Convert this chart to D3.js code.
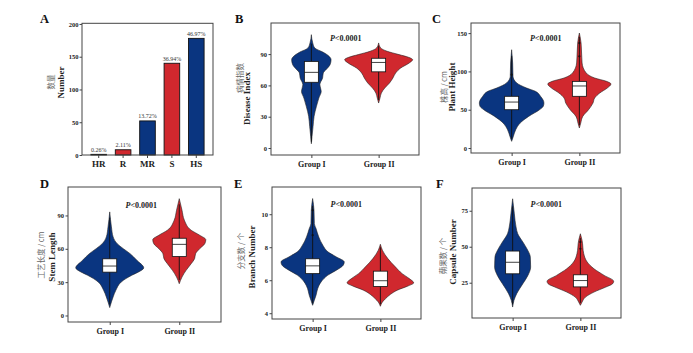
<!DOCTYPE html>
<html>
<head>
<meta charset="utf-8">
<script src="https://cdn.jsdelivr.net/npm/d3@7"></script>
<style>
body { margin: 0; background: #fff; }
svg { display: block; }
text { font-family: "Liberation Serif", "Times New Roman", serif; }
.cn { font-family: "Noto Sans CJK SC", sans-serif; fill: #666; }
</style>
</head>
<body>
<div id="chart"></div>
<script>
// ---- panel A: resistance classes
var barCats = ["HR", "R", "MR", "S", "HS"];
var barCounts = [1, 8, 52, 140, 178];
var barPcts = ["0.26%", "2.11%", "13.72%", "36.94%", "46.97%"];
var barTicks = [0, 50, 100, 150, 200];

var groups = ["Group I", "Group II"];

// violin outlines: [value, relative half width]
var diseaseI = [[108.6,0],[100.7,.04],[95.9,.1],[91.7,.35],[87.9,.52],[84.7,.58],[79.9,.55],[75.7,.45],[71.9,.35],[67.1,.33],[60.7,.25],[54.3,.29],[47.9,.22],[40,.15],[30.4,.08],[20.8,.05],[11.2,.02],[4.1,0]];
var diseaseII = [[100.7,0],[95.9,.06],[92.7,.25],[89.5,.6],[86.9,.88],[84.7,1],[81.5,.9],[76.7,.65],[71.9,.5],[67.1,.42],[62.3,.32],[57.5,.18],[52.7,.08],[47.9,.04],[43.1,0]];
var heightI = [[128.3,0],[111,.03],[93.6,.04],[84.9,.15],[78.3,.44],[74,.7],[67.5,.85],[58.7,.95],[54.4,.93],[50,.82],[41.3,.5],[32.6,.25],[23.9,.12],[15.2,.05],[8.7,0]];
var heightII = [[150.1,0],[137,.05],[111,.08],[98,.2],[91.4,.45],[87,.8],[83.6,.93],[78.3,.82],[71.8,.6],[65.3,.45],[58.7,.4],[50,.27],[41.3,.1],[32.6,.04],[26.1,0]];
var stemI = [[93.2,0],[79.7,.05],[70.7,.1],[64.6,.22],[60.1,.4],[55.6,.6],[49.6,.8],[42.8,1],[39.2,.85],[36.2,.65],[30.2,.34],[22.7,.18],[16.7,.1],[12.2,.05],[7.1,0]];
var stemII = [[105.1,0],[94.7,.08],[85.7,.15],[76.7,.35],[72.2,.6],[68.2,.78],[64.6,.75],[60.1,.6],[55.6,.48],[51.1,.45],[46.6,.35],[40.6,.2],[34.6,.08],[28.6,0]];
var branchI = [[10.95,0],[10.24,.04],[9.43,.05],[9.13,.1],[8.62,.18],[8.12,.3],[7.72,.45],[7.41,.7],[7.11,.93],[6.91,.9],[6.61,.7],[6.31,.45],[5.9,.25],[5.5,.15],[5.09,.1],[4.79,.05],[4.48,0]];
var branchII = [[8.18,0],[7.82,.06],[7.31,.22],[6.81,.44],[6.4,.64],[6.1,.85],[5.84,.98],[5.64,.8],[5.4,.5],[5.15,.3],[4.88,.15],[4.68,.06],[4.42,0]];
var capsuleI = [[83.3,0],[72.9,.05],[63.7,.1],[59,.15],[53.3,.3],[48.6,.42],[42.8,.52],[35.9,.53],[30.1,.45],[24.3,.3],[17.4,.12],[12.8,.04],[8.1,0]];
var capsuleII = [[59,0],[54.4,.05],[45.1,.1],[39.4,.2],[34.7,.4],[30.1,.7],[26,.98],[24.3,.95],[22,.75],[18.5,.4],[15,.15],[11.6,.05],[9.3,0]];

// box stats: [whisker low, q1, median, q3, whisker high]
var diseaseBox = [[6, 63, 72.5, 83, 100], [46, 73, 82, 86, 98]];
var heightBox = [[12, 50, 60, 67.5, 120], [30, 67.5, 81, 87, 145]];
var stemBox = [[10, 39, 44.5, 51, 88], [32, 53, 64, 69.5, 100]];
var branchBox = [[4.6, 6.4, 6.87, 7.3, 10.5], [4.55, 5.62, 5.97, 6.55, 8.0]];
var capsuleBox = [[10, 31.2, 39.2, 47, 78], [11, 22.1, 26.5, 30.5, 56]];

var heightOut = [[95.7], [137, 119.7]];
var branchOut = [[10.24, 8.73], []];
var capsuleOut = [[], [53.3, 48.6]];

var pText = "<0.0001";

var blue = "#0a3580", red = "#d0282e";
var fills = [blue, red];

var svg = d3.select("#chart").append("svg")
    .attr("width", 693).attr("height", 353);

function yAxisStyle(g) {
    g.select(".domain").remove();
    g.selectAll("text").attr("font-weight", "bold").attr("font-size", "6.5px").attr("fill", "#222");
    g.selectAll("line").attr("stroke", "#444");
}

// ---------- panel A ----------
(function() {
    var f = {x: 82, y: 23.3, w: 131, h: 131.7};
    var g = svg.append("g").attr("transform", "translate(" + f.x + "," + f.y + ")");
    var x = d3.scaleBand().domain(barCats).range([0, f.w]).paddingInner(0.36).paddingOuter(0.365);
    var y = d3.scaleLinear().domain([0, 201]).range([f.h, 0]);

    g.selectAll(".bar").data(barCounts).enter().append("rect")
        .attr("x", (d, i) => x(barCats[i]))
        .attr("y", d => y(d))
        .attr("width", x.bandwidth())
        .attr("height", d => f.h - y(d))
        .attr("fill", (d, i) => i % 2 ? red : blue)
        .attr("stroke", "#111").attr("stroke-width", 0.9);

    g.selectAll(".pct").data(barPcts).enter().append("text")
        .attr("x", (d, i) => x(barCats[i]) + x.bandwidth() / 2)
        .attr("y", (d, i) => y(barCounts[i]) - 2.5)
        .attr("text-anchor", "middle")
        .attr("font-size", "6px").attr("fill", "#333")
        .text(d => d);

    g.append("g").call(d3.axisLeft(y).tickValues(barTicks).tickSize(2.5).tickPadding(1)).call(yAxisStyle);
    var xa = g.append("g").attr("transform", "translate(0," + f.h + ")")
        .call(d3.axisBottom(x).tickSize(3).tickPadding(3));
    xa.select(".domain").remove();
    xa.selectAll("line").attr("stroke", "#444");
    xa.selectAll("text").attr("font-weight", "bold").attr("font-size", "9px").attr("fill", "#222");

    g.append("rect").attr("width", f.w).attr("height", f.h)
        .attr("fill", "none").attr("stroke", "#444").attr("stroke-width", 1);
})();

// ---------- violin panels ----------
var panels = [
    {frame: {x: 271, y: 23, w: 148, h: 132}, dom: [-6.7, 119.8], ticks: [0, 30, 60, 90],
     dens: [diseaseI, diseaseII], box: diseaseBox, out: [[], []],
     p: [345.7, 41.3]},
    {frame: {x: 471, y: 23, w: 149, h: 130}, dom: [-6.5, 163.2], ticks: [0, 50, 100, 150],
     dens: [heightI, heightII], box: heightBox, out: heightOut,
     p: [545.7, 40.5]},
    {frame: {x: 68, y: 187, w: 153, h: 135}, dom: [-5.85, 115.6], ticks: [0, 30, 60, 90],
     dens: [stemI, stemII], box: stemBox, out: [[], []],
     p: [141.3, 207.5]},
    {frame: {x: 272, y: 187, w: 149, h: 132}, dom: [3.65, 11.65], ticks: [4, 6, 8, 10],
     dens: [branchI, branchII], box: branchBox, out: branchOut,
     p: [346.3, 207]},
    {frame: {x: 472, y: 188, w: 149, h: 130}, dom: [0.49, 90.8], ticks: [25, 50, 75],
     dens: [capsuleI, capsuleII], box: capsuleBox, out: capsuleOut,
     p: [546.3, 207]}
];

var wScale = d3.scaleLinear().domain([0, 1]).range([0, 34]);

panels.forEach(function(P) {
    var f = P.frame;
    var g = svg.append("g").attr("transform", "translate(" + f.x + "," + f.y + ")");
    var x = d3.scalePoint().domain(groups).range([0, f.w]).padding(0.6);
    var y = d3.scaleLinear().domain(P.dom).range([f.h, 0]);

    groups.forEach(function(grp, i) {
        var cx = x(grp);
        var area = d3.area()
            .curve(d3.curveMonotoneY)
            .y(d => y(d[0]))
            .x0(d => cx - wScale(d[1]))
            .x1(d => cx + wScale(d[1]));
        g.append("path").datum(P.dens[i])
            .attr("d", area)
            .attr("fill", fills[i])
            .attr("stroke", "#222").attr("stroke-width", 0.6);

        var b = P.box[i];
        g.append("line")
            .attr("x1", cx).attr("x2", cx)
            .attr("y1", y(b[0])).attr("y2", y(b[4]))
            .attr("stroke", "#111").attr("stroke-width", 0.9);
        g.append("rect")
            .attr("x", cx - 7).attr("width", 14)
            .attr("y", y(b[3])).attr("height", y(b[1]) - y(b[3]))
            .attr("fill", "#fff").attr("stroke", "#111").attr("stroke-width", 0.8);
        g.append("line")
            .attr("x1", cx - 7).attr("x2", cx + 7)
            .attr("y1", y(b[2])).attr("y2", y(b[2]))
            .attr("stroke", "#111").attr("stroke-width", 0.8);

        g.selectAll(".o" + i).data(P.out[i]).enter().append("circle")
            .attr("cx", cx).attr("cy", d => y(d)).attr("r", 1.1)
            .attr("fill", "#111");
    });

    g.append("g").call(d3.axisLeft(y).tickValues(P.ticks).tickSize(2.5).tickPadding(1.5)).call(yAxisStyle);
    var xa = g.append("g").attr("transform", "translate(0," + f.h + ")")
        .call(d3.axisBottom(x).tickSize(3).tickPadding(3.3));
    xa.select(".domain").remove();
    xa.selectAll("line").attr("stroke", "#444");
    xa.selectAll("text").attr("font-weight", "bold").attr("font-size", "8px").attr("fill", "#222");

    g.append("rect").attr("width", f.w).attr("height", f.h)
        .attr("fill", "none").attr("stroke", "#444").attr("stroke-width", 1);

    var pt = svg.append("text")
        .attr("x", P.p[0]).attr("y", P.p[1])
        .attr("text-anchor", "middle")
        .attr("font-size", "8px").attr("font-weight", "bold").attr("fill", "#222");
    pt.append("tspan").attr("font-style", "italic").text("P");
    pt.append("tspan").text(pText);
});

// ---------- panel letters ----------
var letters = [["A", 40, 23], ["B", 235, 23], ["C", 432, 23], ["D", 40, 188], ["E", 234, 188], ["F", 436, 188]];
svg.selectAll(".letter").data(letters).enter().append("text")
    .attr("x", d => d[1]).attr("y", d => d[2])
    .attr("font-size", "12.5px").attr("font-weight", "bold").attr("fill", "#111")
    .text(d => d[0]);

// ---------- axis titles (Chinese + English) ----------
var titles = [
    ["数量", 50.3, 82, true], ["Number", 60.5, 82.5, false],
    ["病情指数", 239, 78, true], ["Disease Index", 246.5, 98.5, false],
    ["株高 / cm", 443, 87, true], ["Plant Height", 452, 87, false],
    ["工艺长度 / cm", 40, 255, true], ["Stem Length", 52, 257, false],
    ["分支数 / 个", 240, 251, true], ["Branch Number", 252, 257, false],
    ["蒴果数 / 个", 442.5, 256, true], ["Capsule Number", 453, 252, false]
];
svg.selectAll(".ytitle").data(titles).enter().append("text")
    .attr("class", d => d[3] ? "cn" : null)
    .attr("transform", d => "translate(" + d[1] + "," + d[2] + ") rotate(-90)")
    .attr("text-anchor", "middle")
    .attr("dominant-baseline", "central")
    .attr("font-size", d => d[3] ? "7.5px" : "9px")
    .attr("font-weight", d => d[3] ? "normal" : "bold")
    .attr("fill", d => d[3] ? "#666" : "#222")
    .text(d => d[0]);
</script>
</body>
</html>
